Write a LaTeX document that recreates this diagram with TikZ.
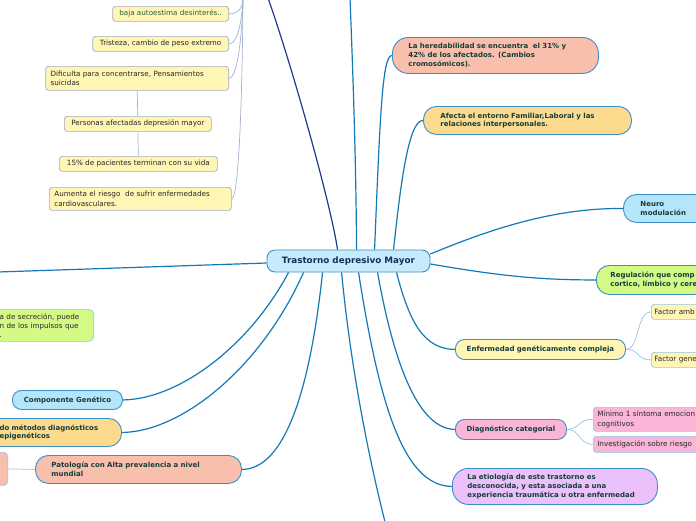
\documentclass[tikz,border=0pt]{standalone}
\usepackage{fontspec}
\setmainfont{DejaVu Sans}
\newcommand\fsb{\fontsize{7}{8.7}\selectfont\bfseries}
\newcommand\fsr{\fontsize{7.2}{9.2}\selectfont}
\newcommand\fcb{\fontsize{8.8}{10}\selectfont\bfseries}
\definecolor{cblue}{HTML}{C7EBFC}
\definecolor{lblue}{HTML}{B5E5FA}
\definecolor{salmon}{HTML}{F8BFAC}
\definecolor{orng}{HTML}{FDDB8E}
\definecolor{lgreen}{HTML}{D4FA86}
\definecolor{yel}{HTML}{FFF6B6}
\definecolor{pnk}{HTML}{F9B6D8}
\definecolor{lav}{HTML}{EBC1FB}
\definecolor{bord}{HTML}{3C8FC6}
\definecolor{gbord}{HTML}{A3ABC1}
\definecolor{lbord}{HTML}{93C6E4}
\definecolor{conn}{HTML}{1379B6}
\definecolor{navyc}{HTML}{1E3B8D}
\definecolor{thin}{HTML}{A7B2D3}
\definecolor{thinb}{HTML}{92C5E3}
\definecolor{ttxt}{HTML}{163C3A}
\definecolor{ctxt}{HTML}{13305C}
\definecolor{gtxt}{HTML}{2F5E3C}
\tikzset{
 mbox/.style={draw=bord, line width=0.9pt, font=\fsb, text=ttxt, inner ysep=1pt},
 sbox/.style={draw=gbord, line width=0.7pt, rounded corners=3pt, fill=yel, font=\fsr, text=black!85, inner ysep=1pt, inner xsep=5pt},
 conline/.style={draw=conn, line width=1.2pt},
 thinline/.style={draw=thin, line width=0.7pt},
 thinbl/.style={draw=thinb, line width=0.7pt},
}
\begin{document}
\begin{tikzpicture}[x=1pt,y=-1pt]
\useasboundingbox (0,0) rectangle (696,520);
\clip (0,0) rectangle (696,520);
\fill[white] (0,0) rectangle (696,520);
% coordinates off canvas
\coordinate (tN) at (268,-2);
\coordinate (tV) at (350,-2);
\coordinate (tT) at (243,-2);
\coordinate (bD) at (385,522);
\coordinate (lE) at (-2,272);
% center
\node[mbox, fill=cblue, rounded corners=8pt, minimum width=163pt, minimum height=22pt, font=\fcb, text=ctxt] (c) at (348.5,261) {Trastorno depresivo Mayor};
% right/top main nodes
\node[mbox, fill=salmon, rounded corners=16pt, anchor=north west, align=left, text width=174pt, inner xsep=16pt, minimum height=36pt] (h) at (392,37) {La heredabilidad se encuentra\ \ el 31\% y\\42\% de los afectados. (Cambios\\cromosómicos).};
\node[mbox, fill=orng, rounded corners=13pt, anchor=north west, align=left, text width=174pt, inner xsep=17pt, minimum height=28pt] (af) at (423,106) {Afecta el entorno Familiar,Laboral y las\\relaciones interpersonales.};
\node[mbox, fill=lblue, rounded corners=13pt, anchor=north west, align=left, text width=120pt, inner xsep=17pt, minimum height=28pt] (nm) at (623,194) {Neuro\\modulación};
\node[mbox, fill=lgreen, rounded corners=13pt, anchor=north west, align=left, text width=150pt, inner xsep=14pt, minimum height=29pt] (rg) at (596,265) {Regulación que comp\\cortico, límbico y cere};
\node[mbox, fill=yel, rounded corners=9pt, anchor=north west, minimum width=170pt, minimum height=20pt] (en) at (455,339) {Enfermedad genéticamente compleja};
\node[sbox, draw=lbord, anchor=north west, align=left, text width=80pt, inner xsep=3pt, minimum height=15pt] (fa) at (651,304) {Factor amb};
\node[sbox, draw=lbord, anchor=north west, align=left, text width=80pt, inner xsep=3pt, minimum height=15pt] (fg) at (651,352) {Factor gene};
\node[mbox, fill=pnk, rounded corners=9pt, anchor=north west, minimum width=111pt, minimum height=20pt] (dg) at (455,419) {Diagnóstico categorial};
\node[sbox, draw=lbord, fill=pnk, anchor=north west, align=left, text width=120pt, inner xsep=4pt, minimum height=24pt] (mi) at (593,407) {Mínimo 1 síntoma emocion\\cognitivos};
\node[sbox, draw=lbord, fill=pnk, anchor=north west, align=left, text width=120pt, inner xsep=4pt, minimum height=16pt] (iv) at (593,436) {Investigación sobre riesgo};
\node[mbox, fill=lav, rounded corners=16pt, anchor=north west, align=left, text width=175pt, inner xsep=15pt, minimum height=36pt] (et) at (452,468) {La etiología de este trastorno es\\desconocida, y esta asociada a una\\experiencia traumática u otra enfermedad};
% left main nodes
\node[mbox, fill=salmon, rounded corners=13pt, anchor=north west, align=left, text width=174pt, inner xsep=16pt, minimum height=28pt] (pa) at (35,455) {Patología con Alta prevalencia a nivel\\mundial};
\node[sbox, draw=lbord, fill=salmon, rounded corners=4pt, anchor=north east, minimum width=40pt, minimum height=33pt] (pl) at (8,452) {};
\node[mbox, fill=orng, rounded corners=13pt, anchor=north east, align=left, text width=140pt, inner xsep=4pt, minimum height=28pt] (me) at (122,418) {\hspace*{22pt}do métodos diagnósticos\\\hspace*{22pt}epigenéticos};
\node[mbox, fill=lblue, rounded corners=9pt, anchor=north west, minimum width=110pt, minimum height=19pt] (cg) at (12,390) {Componente Genético};
\node[sbox, draw=lbord, fill=lgreen, rounded corners=5pt, anchor=north east, align=left, text width=120pt, inner xsep=6pt, minimum height=32pt] (gr) at (94,309) {\hspace*{32pt}a de secreción, puede\\\hspace*{32pt}n de los impulsos que\\\hspace*{32pt}.};
% top-left yellow nodes
\node[sbox, anchor=north east, minimum width=116pt, minimum height=15pt, text=gtxt] (y1) at (229,6) {baja autoestima desinterés..};
\node[sbox, anchor=north east, minimum width=136pt, minimum height=15pt] (y2) at (229,36) {Tristeza, cambio de peso extremo};
\node[sbox, anchor=north east, align=left, text width=173pt, minimum height=24pt] (y3) at (229,66) {Dificulta para concentrarse, Pensamientos\\suicidas};
\node[sbox, anchor=north west, minimum width=147pt, minimum height=15pt] (y4) at (64,116) {Personas afectadas depresión mayor};
\node[sbox, anchor=north west, minimum width=158pt, minimum height=15pt] (y5) at (59,156) {15\% de pacientes terminan con su vida};
\node[sbox, anchor=north west, align=left, text width=172pt, minimum height=23pt] (y6) at (49,187) {Aumenta el riesgo\ \ de sufrir enfermedades\\cardiovasculares.};
% main connectors
\draw[draw=navyc, line width=1.2pt] ([xshift=71pt]c.north west) .. controls (330,200) and (290,60) .. (tN);
\draw[conline] ([xshift=90pt]c.north west) .. controls (356,150) and (352,50) .. (tV);
\draw[conline] ([xshift=108pt]c.north west) .. controls (380,120) and (382,55) .. (h.west);
\draw[conline] ([xshift=127pt]c.north west) .. controls (400,190) and (408,120) .. (af.west);
\draw[conline] ([yshift=7pt]c.east) .. controls (500,225) and (560,208) .. (nm.west);
\draw[conline] ([yshift=-3pt]c.east) .. controls (500,276) and (540,280) .. (rg.west);
\draw[conline] ([xshift=130pt]c.south west) .. controls (410,325) and (425,349) .. (en.west);
\draw[conline] ([xshift=111pt]c.south west) .. controls (395,370) and (420,429) .. (dg.west);
\draw[conline] ([xshift=92pt]c.south west) .. controls (380,410) and (405,486) .. (et.west);
\draw[conline] ([xshift=75pt]c.south west) .. controls (352,380) and (372,470) .. (bD);
\draw[conline] ([xshift=56pt]c.south west) .. controls (310,390) and (285,469) .. (pa.east);
\draw[conline] ([xshift=37pt]c.south west) .. controls (260,370) and (180,432) .. (me.east);
\draw[conline] ([xshift=22pt]c.south west) .. controls (250,345) and (180,399) .. (cg.east);
\draw[conline] ([yshift=-2pt]c.west) -- (lE);
% thin connectors
\draw[thinline] (y1.east) .. controls (238,14) and (243,8) .. (tT);
\draw[thinline] (y2.east) .. controls (238,44) and (242,20) .. (tT);
\draw[thinline] (y3.east) .. controls (237,78) and (242,40) .. (tT);
\draw[thinline] (y6.east) .. controls (238,198) and (242,120) .. (tT);
\draw[thinline] (y3.south) -- (y4.north);
\draw[thinline] (y4.south) -- (y5.north);
\draw[thinbl] (en.east) .. controls (640,349) and (636,312) .. (fa.west);
\draw[thinbl] (en.east) .. controls (640,349) and (636,360) .. (fg.west);
\draw[thinbl] (dg.east) .. controls (580,429) and (578,419) .. (mi.west);
\draw[thinbl] (dg.east) .. controls (580,429) and (578,444) .. (iv.west);
\draw[thinbl] (pa.west) -- (pl.east);
\end{tikzpicture}
\end{document}
